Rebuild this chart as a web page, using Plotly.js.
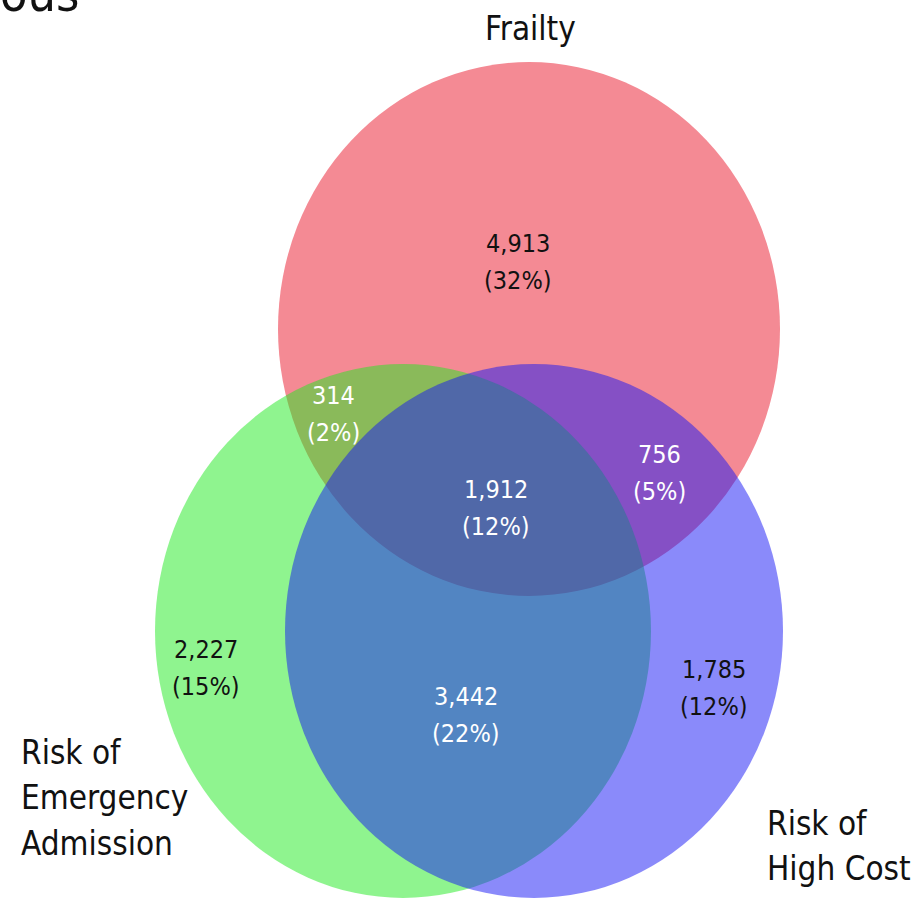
<!DOCTYPE html>
<html>
<head>
<meta charset="utf-8">
<script src="https://cdn.plot.ly/plotly-3.0.1.min.js"></script>
<style>html,body{margin:0;padding:0;background:#fff}#chart{width:923px;height:906px}</style>
</head>
<body>
<div id="chart"></div>
<script>
// ---- data ----
const setNames = ['Frailty', 'Risk of Emergency Admission', 'Risk of High Cost'];
const setLabelLines = [['Frailty'], ['Risk of', 'Emergency', 'Admission'], ['Risk of', 'High Cost']];
const regionSets = ['F', 'F+E', 'F+E+H', 'F+H', 'E', 'E+H', 'H'];
const regionCounts = [4913, 314, 1912, 756, 2227, 3442, 1785];
const regionPercents = ['32%', '2%', '12%', '5%', '15%', '22%', '12%'];
const titleFragment = 'ous';

// ---- geometry / style (pixel-like data units) ----
const W = 923, H = 906;
const circles = [
  {cx: 529, cy: 329, rx: 251, ry: 267, fill: 'rgb(244,138,148)'},
  {cx: 403, cy: 631, rx: 248, ry: 267, fill: 'rgba(31,233,31,0.5)'},
  {cx: 534, cy: 631, rx: 249, ry: 267, fill: 'rgba(21,21,245,0.5)'}
];
const regionPos = [
  {x: 518, y: 262, c: '#111'},
  {x: 333, y: 414, c: '#fff'},
  {x: 496, y: 508, c: '#fff'},
  {x: 659, y: 473, c: '#fff'},
  {x: 206, y: 668, c: '#111'},
  {x: 466, y: 715, c: '#fff'},
  {x: 714, y: 688, c: '#111'}
];
const setLabelPos = [
  {x: 530, y: 28, align: 'center'},
  {x: 19, y: 752, align: 'left'},
  {x: 765, y: 823, align: 'left'}
];
const FONT = '"DejaVu Sans Condensed", "DejaVu Sans", sans-serif';
const labelSize = 33, labelPitch = 45.5;
const numSize = 25, numPitch = 37;

const shapes = circles.map(c => ({
  type: 'circle', xref: 'x', yref: 'y', layer: 'below',
  x0: c.cx - c.rx, x1: c.cx + c.rx, y0: c.cy - c.ry, y1: c.cy + c.ry,
  fillcolor: c.fill, line: {width: 0}
}));

const annotations = [];
regionCounts.forEach((v, i) => {
  const p = regionPos[i];
  annotations.push({x: p.x, y: p.y - numPitch / 2, xref: 'x', yref: 'y', showarrow: false,
    text: v.toLocaleString('en-US'), font: {family: FONT, size: numSize, color: p.c},
    xanchor: 'center', yanchor: 'middle'});
  annotations.push({x: p.x, y: p.y + numPitch / 2, xref: 'x', yref: 'y', showarrow: false,
    text: '(' + regionPercents[i] + ')', font: {family: FONT, size: numSize, color: p.c},
    xanchor: 'center', yanchor: 'middle'});
});
setLabelLines.forEach((lines, i) => {
  const p = setLabelPos[i];
  lines.forEach((t, j) => {
    annotations.push({x: p.x, y: p.y + j * labelPitch, xref: 'x', yref: 'y', showarrow: false,
      text: t, font: {family: FONT, size: labelSize, color: '#111'},
      xanchor: p.align === 'left' ? 'left' : 'center', yanchor: 'middle', align: p.align});
  });
});
annotations.push({x: 0, y: 1, xref: 'paper', yref: 'paper', showarrow: false, text: titleFragment,
  font: {family: FONT, size: 50, color: '#111'}, xanchor: 'left', yanchor: 'middle', yshift: 6, xshift: -2});

const layout = {
  width: W, height: H, margin: {l: 0, r: 0, t: 0, b: 0},
  paper_bgcolor: '#fff', plot_bgcolor: '#fff', showlegend: false,
  xaxis: {range: [0, W], visible: false, fixedrange: true},
  yaxis: {range: [H, 0], visible: false, fixedrange: true},
  shapes: shapes, annotations: annotations
};
Plotly.newPlot('chart', [{x: [], y: [], type: 'scatter', hoverinfo: 'skip'}], layout,
  {displayModeBar: false, staticPlot: true});
</script>
</body>
</html>
